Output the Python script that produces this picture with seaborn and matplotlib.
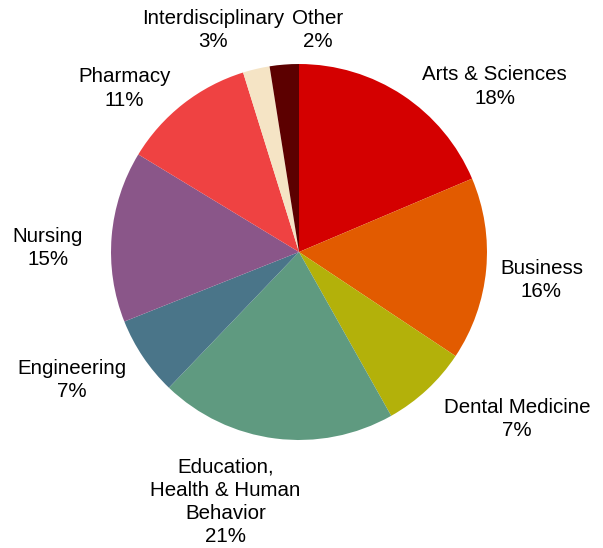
import matplotlib
matplotlib.use("Agg")
import matplotlib.pyplot as plt
import seaborn as sns

# shares (clockwise from 12 o'clock)
schools = ["Arts & Sciences", "Business", "Dental Medicine",
           "Education,\nHealth & Human\nBehavior", "Engineering", "Nursing",
           "Pharmacy", "Interdisciplinary", "Other"]
shares = [18.6, 15.7, 7.5, 20.3, 6.8, 14.7, 11.5, 2.3, 2.5]
pct_labels = ["18%", "16%", "7%", "21%", "7%", "15%", "11%", "3%", "2%"]
colors = ["#D40000", "#E25B00", "#B3B10A", "#5F9A80", "#4A7589",
          "#8A5689", "#EF4242", "#F5E4C5", "#5C0000"]

# label positions in pie-radius units
label_x = [1.04, 1.29, 1.16, -0.39, -1.21, -1.335, -0.93, -0.457, 0.10]
label_y = [0.88, -0.15, -0.89, -1.33, -0.68, 0.02, 0.87, 1.18, 1.18]

sns.set_style("white")
plt.rcParams["font.family"] = ["Liberation Sans", "DejaVu Sans"]

fig = plt.figure(figsize=(6.03, 5.48), dpi=100)
ax = fig.add_axes([0.1841, 0.1971, 0.6235, 0.6861])
ax.pie(shares, colors=colors, startangle=90, counterclock=False,
       radius=1, wedgeprops=dict(edgecolor="none"))
ax.set_xlim(-1, 1)
ax.set_ylim(-1, 1)
ax.set_aspect("equal")
ax.axis("off")

for name, pct, x, y in zip(schools, pct_labels, label_x, label_y):
    ax.text(x, y, f"{name}\n{pct}", ha="center", va="center",
            fontsize=14.8, color="black", linespacing=1.28, clip_on=False)

fig.savefig("out.png", dpi=100)
